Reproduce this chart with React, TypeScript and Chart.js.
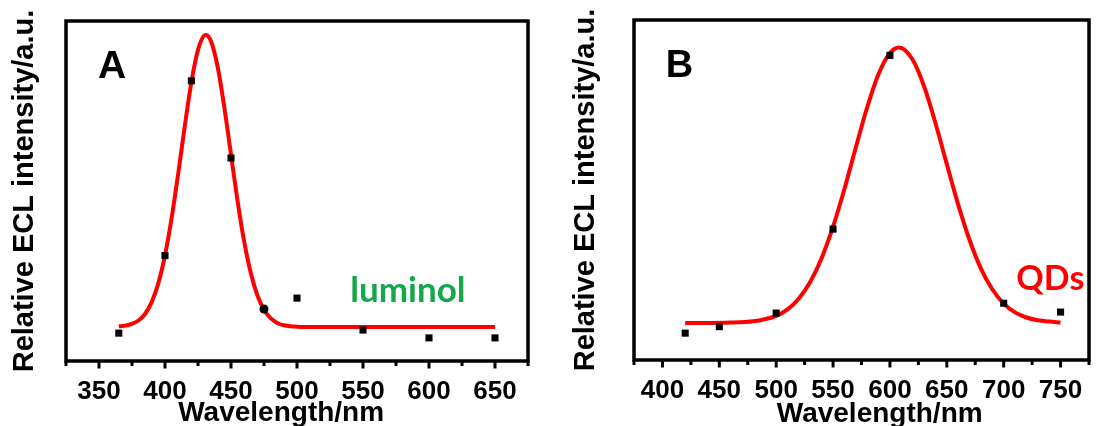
import React, { useEffect, useRef } from 'react';
import { Chart, registerables } from 'chart.js';

Chart.register(...registerables);

const AXIS_FONT = "'Liberation Sans', Arial, sans-serif";
const NOTE_FONT = "Lato, 'Noto Sans', sans-serif";

// ---------- Panel A : luminol ----------
const wavelengthA = [365, 400, 420, 450, 475, 500, 550, 600, 650];
const intensityA = [8.2, 31.0, 82.4, 59.7, 15.3, 18.5, 9.1, 6.8, 6.8];
const markerA = ['rect', 'rect', 'rect', 'rect', 'circle', 'rect', 'rect', 'rect', 'rect'];
const fitWavelengthA = [365, 370, 375, 380, 385, 390, 395, 400, 405, 410, 415, 420, 425, 430, 431, 435, 440, 445, 450, 455, 460, 465, 470, 475, 480, 485, 490, 495, 500, 510, 530, 560, 600, 650];
const fitIntensityA = [10.2, 10.4, 10.9, 11.9, 13.9, 17.4, 22.9, 31.1, 42.0, 55.1, 69.1, 82.0, 91.5, 95.8, 95.9, 93.9, 86.3, 74.5, 60.7, 47.0, 35.1, 25.9, 19.3, 15.1, 12.6, 11.2, 10.5, 10.2, 10.1, 10.0, 10.0, 10.0, 10.0, 10.0];
const tickLabelsA = ['350', '400', '450', '500', '550', '600', '650'];

// ---------- Panel B : QDs ----------
const wavelengthB = [420, 450, 500, 550, 600, 700, 750];
const intensityB = [7.9, 9.8, 13.8, 38.5, 89.6, 16.7, 14.1];
const markerB = ['rect', 'rect', 'rect', 'rect', 'rect', 'rect', 'rect'];
const fitWavelengthB = [420, 440, 460, 480, 490, 500, 510, 520, 530, 540, 550, 560, 570, 580, 590, 600, 608, 620, 630, 640, 650, 660, 670, 680, 690, 700, 710, 720, 730, 740, 750];
const fitIntensityB = [10.9, 10.9, 11.0, 11.4, 12.0, 13.0, 14.9, 18.1, 23.0, 30.0, 39.2, 50.3, 62.5, 74.3, 84.1, 90.3, 91.9, 88.3, 80.5, 69.7, 57.6, 45.7, 35.3, 26.9, 20.8, 16.6, 14.0, 12.5, 11.7, 11.3, 11.05];
const tickLabelsB = ['400', '450', '500', '550', '600', '650', '700', '750'];

const Y_TITLE = 'Relative ECL intensity/a.u.';
const X_TITLE = 'Wavelength/nm';

type Note = { text: string; x: number; y: number; font: string; color: string };

type PanelSpec = {
  xs: number[];
  ys: number[];
  markers: string[];
  fitX: number[];
  fitY: number[];
  tickLabels: string[];
  xMin: number;
  xMax: number;
  padding: { left: number; top: number; right: number; bottom: number };
  yAxisWidth: number;
  xAxisHeight: number;
  yTitlePad: number;
  xTitleAt: number;
  xTitleOffset: number;
  notes: Note[];
};

const panelA: PanelSpec = {
  xs: wavelengthA,
  ys: intensityA,
  markers: markerA,
  fitX: fitWavelengthA,
  fitY: fitIntensityA,
  tickLabels: tickLabelsA,
  xMin: 325,
  xMax: 675,
  padding: { left: 0, top: 21, right: 20, bottom: 0 },
  yAxisWidth: 66,
  xAxisHeight: 65,
  yTitlePad: 8,
  xTitleAt: 488,
  xTitleOffset: 60,
  notes: [
    { text: 'A', x: 360, y: 83.2, font: `bold 39px ${AXIS_FONT}`, color: '#000000' },
    { text: 'luminol', x: 584, y: 17.4, font: `bold 35px ${NOTE_FONT}`, color: '#13a84b' },
  ],
};

const panelB: PanelSpec = {
  xs: wavelengthB,
  ys: intensityB,
  markers: markerB,
  fitX: fitWavelengthB,
  fitY: fitIntensityB,
  tickLabels: tickLabelsB,
  xMin: 375,
  xMax: 775,
  padding: { left: 0, top: 20, right: 2, bottom: 0 },
  yAxisWidth: 86,
  xAxisHeight: 66,
  yTitlePad: 21,
  xTitleAt: 591,
  xTitleOffset: 62,
  notes: [
    { text: 'B', x: 415, y: 83.2, font: `bold 38px ${AXIS_FONT}`, color: '#000000' },
    { text: 'QDs', x: 741, y: 20.6, font: `bold 34px ${NOTE_FONT}`, color: '#ff0000' },
  ],
};

function Panel({ spec, left }: { spec: PanelSpec; left: number }) {
  const ref = useRef<HTMLCanvasElement>(null);

  useEffect(() => {
    const canvas = ref.current;
    if (!canvas) return;

    const decor = {
      id: 'decor',
      afterDraw(chart: any) {
        const { ctx, chartArea: ca, scales } = chart;
        const x = scales.x;
        const y = scales.y;
        ctx.save();
        // frame
        ctx.lineWidth = 3.5;
        ctx.strokeStyle = '#000000';
        ctx.strokeRect(ca.left, ca.top, ca.right - ca.left, ca.bottom - ca.top);
        // outward ticks on the bottom axis
        ctx.lineWidth = 3;
        for (const t of x.ticks) {
          const px = x.getPixelForValue(t.value);
          const major = spec.tickLabels.includes(String(t.value));
          ctx.beginPath();
          ctx.moveTo(px, ca.bottom);
          ctx.lineTo(px, ca.bottom + (major ? 7.5 : 5));
          ctx.stroke();
        }
        // panel notes
        ctx.textAlign = 'center';
        ctx.textBaseline = 'alphabetic';
        for (const n of spec.notes) {
          ctx.font = n.font;
          ctx.fillStyle = n.color;
          ctx.fillText(n.text, x.getPixelForValue(n.x), y.getPixelForValue(n.y));
        }
        // x axis title
        ctx.font = `bold 28px ${AXIS_FONT}`;
        ctx.fillStyle = '#000000';
        ctx.fillText(X_TITLE, x.getPixelForValue(spec.xTitleAt), ca.bottom + spec.xTitleOffset);
        ctx.restore();
      },
    };

    const points = spec.xs.map((v, i) => ({ x: v, y: spec.ys[i] }));
    const fit = spec.fitX.map((v, i) => ({ x: v, y: spec.fitY[i] }));

    const chart = new Chart(canvas, {
      type: 'scatter',
      data: {
        datasets: [
          {
            label: 'measured',
            data: points,
            showLine: false,
            order: 0,
            backgroundColor: '#000000',
            borderColor: '#000000',
            borderWidth: 0,
            pointStyle: (c: any) => spec.markers[c.dataIndex] as any,
            pointRadius: (c: any) => (spec.markers[c.dataIndex] === 'circle' ? 4.5 : 5),
            pointHoverRadius: 5,
          } as any,
          {
            label: 'fit',
            data: fit,
            showLine: true,
            order: 1,
            borderColor: '#ff0000',
            borderWidth: 4,
            pointRadius: 0,
            pointHoverRadius: 0,
            cubicInterpolationMode: 'monotone',
            fill: false,
          } as any,
        ],
      },
      options: {
        animation: false,
        responsive: false,
        maintainAspectRatio: false,
        events: [],
        layout: { padding: spec.padding },
        plugins: {
          legend: { display: false },
          tooltip: { enabled: false },
        },
        scales: {
          x: {
            type: 'linear',
            position: 'bottom',
            min: spec.xMin,
            max: spec.xMax,
            grid: { display: false },
            border: { display: false },
            ticks: {
              stepSize: 25,
              autoSkip: false,
              maxRotation: 0,
              minRotation: 0,
              padding: 7,
              color: '#000000',
              font: { family: AXIS_FONT, size: 26, weight: 'bold' },
              callback: (v: any) => (spec.tickLabels.includes(String(v)) ? String(v) : ''),
            },
            afterFit: (s: any) => {
              s.height = spec.xAxisHeight;
            },
          },
          y: {
            type: 'linear',
            min: 0,
            max: 100,
            grid: { display: false },
            border: { display: false },
            ticks: { display: false },
            title: {
              display: true,
              text: Y_TITLE,
              color: '#000000',
              font: { family: AXIS_FONT, size: 29, weight: 'bold' },
              padding: { top: spec.yTitlePad, bottom: 0 },
            },
            afterFit: (s: any) => {
              s.width = spec.yAxisWidth;
            },
          },
        },
      } as any,
      plugins: [decor],
    });

    return () => chart.destroy();
  }, [spec]);

  return (
    <canvas
      ref={ref}
      width={548}
      height={426}
      style={{ position: 'absolute', left, top: 0, width: 548, height: 426 }}
    />
  );
}

export default function App() {
  return (
    <div
      style={{
        position: 'fixed',
        left: 0,
        top: 0,
        width: 1096,
        height: 426,
        background: '#ffffff',
        overflow: 'hidden',
      }}
    >
      <Panel spec={panelA} left={0} />
      <Panel spec={panelB} left={548} />
    </div>
  );
}
